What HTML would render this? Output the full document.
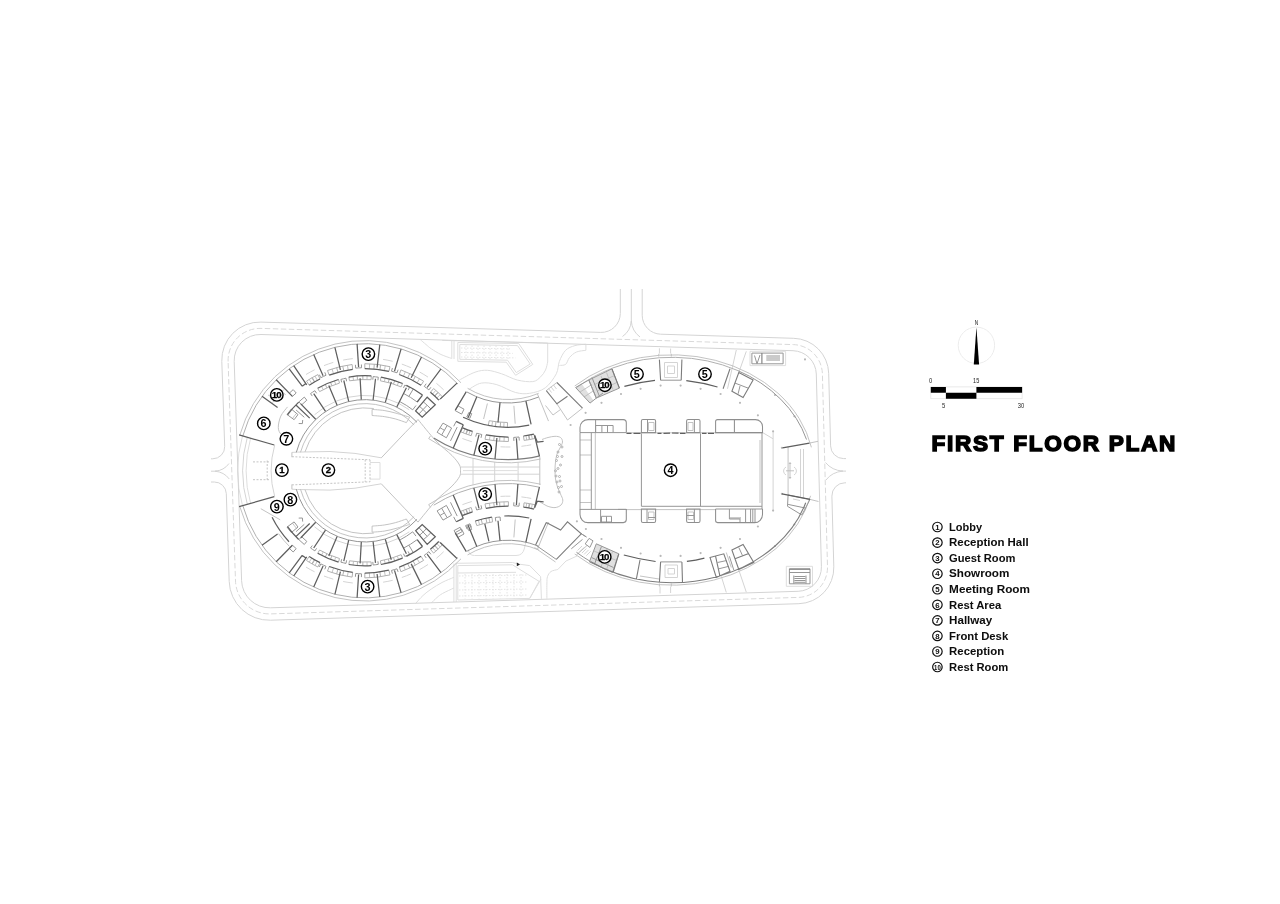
<!DOCTYPE html>
<html lang="en">
<head>
<meta charset="utf-8">
<title>First Floor Plan</title>
<style>
html,body{margin:0;padding:0;background:#fff;}
body{width:1280px;height:904px;overflow:hidden;position:relative;font-family:"Liberation Sans",sans-serif;}
svg{position:absolute;left:0;top:0;display:block;}
text{font-family:"Liberation Sans",sans-serif;}
</style>
</head>
<body>
<svg width="1280" height="904" viewBox="0 0 1280 904">
<defs><filter id="soft" x="0" y="0" width="1280" height="904" filterUnits="userSpaceOnUse"><feGaussianBlur stdDeviation="0.3"/></filter></defs>
<g filter="url(#soft)">
<g fill="none" stroke-linecap="butt" stroke-linejoin="miter">
<path style="stroke:none;fill:#e0e0e0" d="M575.6 387.5 L590 403.1 L593.5 400.5 L581.5 383.5ZM588.8 380 L596.3 398.1 L619.4 388.1 L611.9 368.8ZM596.3 543.8 L618.8 553.8 L612.5 572.5 L589.4 561.9Z"/>
<path style="stroke:#e4e4e4;stroke-width:1;stroke-dasharray:1.5 1.5" d="M461 348 L510 348.9M461 352.5 L512.7 353.4M461 357 L515.4 357.9M466 345.5V359.5M472 345.5V359.5M478 345.5V359.5M484 345.5V359.5M490 345.5V359.5M496 345.5V359.5M502 345.5V359.5M508 345.5V359.5M459 576 L528 575M459 583 L528 582M459 590 L528 589M459 596 L528 595M465 574V598.5M472 574V598.5M479 574V598.5M486 574V598.5M493 574V598.5M500 574V598.5M507 574V598.5M514 574V598.5M521 574V598.5"/>
<path style="stroke:#dedede;stroke-width:1" d="M242.5 435.9 A127.4 127.4 0 0 0 237.6 470.8M250.6 438.2 A118.9 118.9 0 0 0 246.1 470.8M242.5 505.7 A127.4 127.4 0 0 1 237.6 470.8M250.6 503.4 A118.9 118.9 0 0 1 246.1 470.8M370 462.5 L380 462.5 L380 479.1 L370 479.1M463 470.6 L517.5 470.6M750 351.3 L785.6 351.3 L785.6 365.6 L750 365.6ZM786.3 566.3 L812.5 566.3 L812.5 586.3 L786.3 586.3ZM420.3 339.6C421.2 340.4 424.2 343 426 344.5C427.8 346 428.8 347.1 431.3 348.8C433.8 350.5 437.6 352.9 441 354.5C444.4 356.1 449.8 357.8 451.6 358.4M442.2 340.4 L547.7 343 L547.7 362M547.7 362C547.3 363.3 546.7 367.5 545.5 370C544.3 372.5 542.7 375 540.6 376.9C538.5 378.8 536.7 381.1 532.8 381.6C528.9 382.1 522.4 381.3 517.2 380C512 378.7 506.6 375.4 501.6 373.8C496.7 372.2 491.9 370.6 487.5 370.3C483.1 370 479.7 370.6 475 372.2C470.3 373.8 462 378.7 459.4 380M451.8 341 L451.8 358.6M454 341 L454 359M457.8 342.5 L518.8 343.6 L532.8 364.4 L515.6 375.3 L506.3 362.2 L457.8 361.3ZM459.8 344.5 L517.6 345.6 L530.2 364 L516.3 372.6 L507.5 360.2 L459.8 359.3ZM468.8 389.4C470.9 388.3 476.6 383.9 481.3 383.1C486 382.3 491.2 383.1 496.9 384.7C502.6 386.3 510.1 391.1 515.6 392.5C521.1 393.9 524.8 394.1 529.7 393.3C534.7 392.5 540.9 391.1 545.3 387.8C549.7 384.6 553.9 378.2 556.3 373.8C558.6 369.4 557.8 365.2 559.4 361.3C561 357.4 563 352.9 565.6 350.3C568.2 347.7 571.6 346.6 575 345.6C578.4 344.6 584.1 344.4 585.9 344.2M585.9 344.2 L585.9 350.3M585.9 350.3C584.3 350.6 579.2 350.8 576.5 352C573.8 353.2 571.3 355.4 569.5 357.5C567.7 359.6 567.3 363.1 565.6 364.4C563.9 365.7 560.4 365.2 559.4 365.4M468.5 549.5 Q468.5 555.5 474.5 555.5 H516 Q523 555.5 524.5 548 L526 541M415.6 603.5C416.8 602.2 420.4 597.9 423 595.5C425.6 593.1 428.1 591.2 431.3 589C434.5 586.8 438.2 584.5 442 582.5C445.8 580.5 451.9 578.2 453.9 577.3M431.3 603C432.2 602.1 435.1 599.1 437 597.5C438.9 595.9 439.7 595.1 442.5 593.5C445.3 591.9 452 588.9 453.9 588M453.9 563.5 L453.9 602M456.2 563.5 L456.2 602M455.5 563.3 L512.5 562.5 L518.8 564.1 L529.7 565.6 L540.6 576.6 L541.4 598.8M457.8 565.6 L512.5 564.8 L518.8 568.8 L539 581.3 L529.7 598.4 L457.8 600ZM457.8 573 L516 572.3M529.7 598.4 L541 579M546.9 598.6C546.9 596.2 546.8 587.7 546.9 584C547 580.3 546.8 578.7 547.5 576.6C548.2 574.5 549.3 572.7 551 571.5C552.7 570.3 556.7 569.8 557.8 569.5M557.8 569.5 L566 561 L577 556"/>
<path style="stroke:#d4d4d4;stroke-width:1" d="M642.2 289L642.2 315.2A19 19 0 0 0 660.6 334.2L793.8 338.3A36 36 0 0 1 828.7 373.3L830.6 445.9A13 13 0 0 0 843.6 458.6L846 458.6M846 482.8L844.9 482.8A13 13 0 0 0 831.9 496.1L833.8 566.8A36 36 0 0 1 798.9 603.7L270.5 620.2A40 40 0 0 1 229.2 581.5L226.3 493.6A12 12 0 0 0 214.3 482L211 482M211 458.8L212.7 458.8A12 12 0 0 0 224.7 446.4L221.8 361.4A38 38 0 0 1 260.9 322.1L600.7 332.4A19 19 0 0 0 620.3 313.4L620.3 289M234.2 361.4A26 26 0 0 1 261 334.5L793 350.7A24 24 0 0 1 816.3 374L821.4 566.7A24 24 0 0 1 798.1 591.3L270.5 607.8A28 28 0 0 1 241.6 580.7ZM631.3 289 L631.3 323M631.3 321 Q630.5 331 622.5 336.5M631.3 321 Q632 331 640 337M211 471.2 L217 471.2M215 471.2 Q224 470.5 229 463.5M215 471.2 Q224 472 229.3 479M846 471.1 L841 471.1M843 471.1 Q832 470.5 825.5 462.5M843 471.1 Q832 472 826 480M306 374.5 A112.9 112.9 0 0 1 314.6 369.8M324 365.6 A112.9 112.9 0 0 1 333.3 362.4M343.1 360.1 A112.9 112.9 0 0 1 352.8 358.6M362.9 357.9 A112.9 112.9 0 0 1 372.8 358.2M383.1 359.4 A112.9 112.9 0 0 1 392.7 361.3M401.8 364.1 A112.9 112.9 0 0 1 410.9 367.7M419.6 372 A112.9 112.9 0 0 1 428 377.1M436.4 383.3 A112.9 112.9 0 0 1 443.7 389.9M314.5 414.8 A75.4 75.4 0 0 1 409.3 409.8M247.3 437.3 A122.4 122.4 0 0 0 242.6 470.8M274.7 445.1 A93.9 93.9 0 0 0 271.1 470.8M306 567.1 A112.9 112.9 0 0 0 314.6 571.8M324 576 A112.9 112.9 0 0 0 333.3 579.2M343.1 581.5 A112.9 112.9 0 0 0 352.8 583M362.9 583.7 A112.9 112.9 0 0 0 372.8 583.4M383.1 582.2 A112.9 112.9 0 0 0 392.7 580.3M401.8 577.5 A112.9 112.9 0 0 0 410.9 573.9M419.6 569.6 A112.9 112.9 0 0 0 428 564.5M436.4 558.3 A112.9 112.9 0 0 0 443.7 551.7M314.5 526.8 A75.4 75.4 0 0 0 409.3 531.8M247.3 504.3 A122.4 122.4 0 0 1 242.6 470.8M274.7 496.5 A93.9 93.9 0 0 1 271.1 470.8M297.5 452.1 L330 451.5 L355 453.4 L381.3 457.8M291.9 452.4 L297.5 452.1M297.5 489.5 L330 490.1 L355 488.2 L381.3 483.8M291.9 489.2 L297.5 489.5M462.4 438.5 A126 126 0 0 0 471.8 441.7M481.2 444.1 A126 126 0 0 0 490.9 445.8M500.5 446.8 A126 126 0 0 0 510.4 447M521.4 446.3 A126 126 0 0 0 531.2 444.8"/>
<path style="stroke:#d4d4d4;stroke-width:1" d="M473 458.4 L473 470.8M494.7 462.2 L494.7 470.8M518.1 462.4 L518.1 470.8M462.4 504.7 A126 126 0 0 1 471.8 501.5M481.2 499.1 A126 126 0 0 1 490.9 497.4M500.5 496.4 A126 126 0 0 1 510.4 496.2M521.4 496.9 A126 126 0 0 1 531.2 498.4M473 484.8 L473 470.8M494.7 481 L494.7 470.8M518.1 480.8 L518.1 470.8M461 467 L539.5 467M461 474.2 L539.5 474.2M664.5 362.5 L677.5 362.5 L677.5 377.5 L664.5 377.5ZM667.5 366 L674.5 366 L674.5 373.5 L667.5 373.5ZM659.4 353.5 L659.4 348.3M670.6 353.5 L670.6 348.6M736.3 350 L727.5 388.8M746.3 351.3 L738.8 372.5M800.5 449 L800.5 498M803.5 449 L803.5 498M793 499 L800 500.5M786 467 a4.5 4.5 0 0 0 0 8M794 467 a4.5 4.5 0 0 1 0 8M773.1 431.3 L773.1 510.6M762.5 432.5 L773.1 438.8M665 565 L677.5 565 L677.5 577.5 L665 577.5ZM668 568.5 L674.5 568.5 L674.5 574 L668 574ZM660 586.5 L660 593.5M670.6 586.5 L670.6 593M577.5 550.5 L582 546M579.7 551.8 L584.2 547.3M581.9 553.1 L586.4 548.6M584.1 554.4 L588.6 549.9M586.3 555.7 L590.8 551.2M721.3 576.3 L726.3 592.5M738.8 570 L746.3 592.2M548.5 388.5 L551.5 392.5M551 386.8 L554 390.8M553.5 385 L556.5 389"/>
<path style="stroke:#d9d9d9;stroke-width:1;stroke-dasharray:5.5 2.5" d="M228.1 361.5A32 32 0 0 1 261 328.4L793.3 344.6A30 30 0 0 1 822.4 373.8L827.5 566.7A30 30 0 0 1 798.4 597.4L270.6 613.9A34 34 0 0 1 235.5 581Z"/>
<path style="stroke:#bcbcbc;stroke-width:0.9" d="M239.8 435.1 A130.2 130.2 0 0 1 461 382.8M333.5 373.6 L332 368.9M348.2 370 L347.4 365.2M369.4 368.7 L369.6 363.8M384.4 370.5 L385.3 365.6M403.5 376.1 L405.4 371.6M417.1 382.9 L419.6 378.7M432.5 394.1 L435.8 390.4M436.8 398.1 L440.3 394.6M311.8 383.6 L309.2 379.4M317.3 380.4 L315 376.1M321.5 386.3 L323.2 389.6M334.4 380.7 L335.7 384.3M353 376.5 L353.5 380.2M367.1 375.7 L367 379.5M385.2 377.9 L384.4 381.6M398.7 381.9 L397.3 385.4M300.5 452.3 A67.1 67.1 0 0 1 414.1 425M305 451.9 A62.9 62.9 0 0 1 373.8 408.5M292.5 418.5 A89.4 89.4 0 0 1 296.5 413.3M287.5 406.9C286.4 408.5 282.3 412.7 280.8 416.1C279.3 419.6 278.2 424.5 278.3 427.6C278.3 430.6 279.8 433 281.2 434.4C282.6 435.7 285.6 435.6 286.5 435.9M268.2 395.1 L278.8 401M276.6 388.3 L285.7 394.7M272.6 402.5 A114.9 114.9 0 0 1 283.8 389.6M239.8 506.5 A130.2 130.2 0 0 0 461 558.8M333.5 568 L332 572.7M348.2 571.6 L347.4 576.4M369.4 572.9 L369.6 577.8M384.4 571.1 L385.3 576M403.5 565.5 L405.4 570M417.1 558.7 L419.6 562.9M432.5 547.5 L435.8 551.2M436.8 543.5 L440.3 547M311.8 558 L309.2 562.2M317.3 561.2 L315 565.5M321.5 555.3 L323.2 552M334.4 560.9 L335.7 557.3M353 565.1 L353.5 561.4M367.1 565.9 L367 562.1M385.2 563.7 L384.4 560"/>
<path style="stroke:#bcbcbc;stroke-width:0.9" d="M398.7 559.7 L397.3 556.2M300.5 489.3 A67.1 67.1 0 0 0 414.1 516.6M305 489.7 A62.9 62.9 0 0 0 373.8 533.1M292.5 523.1 A89.4 89.4 0 0 0 296.5 528.3M278.5 533.6 A106.9 106.9 0 0 0 289.4 546.4M260.8 508.7 L280.2 519.8M381.3 457.8 L405 432.8 L418 419.5M291.9 452.4 L291.9 457.2M381.3 483.8 L405 508.8 L418 522.1M291.9 489.2 L291.9 484.4M428.7 438.6 A141.8 141.8 0 0 0 540.6 459M430.5 435.9 L428.7 438.6M490.1 435.6 L489.4 440M504.2 436.9 L504 441.4M526 435.6 L526.7 440M531.4 434.6 L532.3 439M465 428.7 L463.3 432.9M470.1 430.6 L468.7 434.9M491.8 426.1 L492.6 421.3M503.8 427.2 L504 422.4M467.6 388.3 A78.5 78.5 0 0 0 538.7 393.3M487.4 403.5 L483.6 419M513.9 405.8 L515.2 423.7M537.4 393.8 L548.5 421.1M428.7 504.6 A141.8 141.8 0 0 1 540.6 484.2M430.5 507.3 L428.7 504.6M490.1 507.6 L489.4 503.2M504.2 506.3 L504 501.8M526 507.6 L526.7 503.2M531.4 508.6 L532.3 504.2M465 514.5 L463.3 510.3M470.1 512.6 L468.7 508.3M478.3 520.1 L479.6 524.8M488.9 517.6 L489.8 522.4M467.6 554.9 A78.5 78.5 0 0 1 538.7 549.9M513.9 537.4 L515.2 519.5M537.4 549.4 L548.5 522.1M539.8 456.5 L539.8 485M418 419.5C421 423.1 430.3 435 436 441C441.7 447 448.1 451.5 452 455.5C455.9 459.5 458.1 462.4 459.5 465C460.9 467.6 460.5 468.9 460.5 470.8C460.5 472.7 460.9 474.1 459.5 476.6C458.1 479.2 455.9 482.1 452 486.1C448.1 490.1 441.7 494.6 436 500.6C430.3 506.6 421 518.5 418 522.1M574.7 386 A142.2 115.2 0 0 1 811.4 447.3"/>
<path style="stroke:#bcbcbc;stroke-width:0.9" d="M576.4 387.8 A139.7 112.7 0 0 1 612.6 368M574.7 554 A142.2 115.2 0 0 0 810.6 495.8M658.8 356.5 L658.8 353.8M671.3 356.5 L671.3 353.8M580 392 L592 384.5M584 397 L594 390.5M594.5 384.5 L614.5 375.5M597.5 391 L617 382.5M601 376 L607 392M606.5 372.5 L613 389.5M809.4 443.1 L818 441.3M810 499.4 L818.5 501.5M788.1 447 L788.1 495M786 470.8h8M790 462v17M788.8 463.5h2.4M788.8 477.5h2.4M659.4 583.5 L659.4 586.5M671.3 583.5 L671.3 586.5M640 576 L659 579M594 551 L616.5 560.5M607 549 L601 567M612.5 551.5 L606.5 569.5M598.5 555 L595.5 561M576.3 555 L587 545.5M726.3 552.5 L731.3 567.5M546.3 390.6 L556.9 382.5M556.9 403.8 L567.5 420 L582.5 408.1M560.5 409.5 L553 415 L545.5 405.5M534.5 547.5 L555.5 562M648.5 422.5 L654 422.5 L654 430.5 L648.5 430.5ZM688 422.5 L693 422.5 L693 430.5 L688 430.5ZM648.5 512 L654 512 L654 519.5 L648.5 519.5ZM688 512 L693.5 512 L693.5 519.5 L688 519.5ZM626.3 509.6 L715.6 509.6M626.3 432.8 L762 432.8M760 440 L760 503M595.3 433 L595.3 509M580 440 L591.3 440M580 455 L591.3 455M580 490 L591.3 490M580 502.5 L591.3 502.5M542 439.5C543 439.2 545.8 438 548 437.5C550.2 437 552.9 436.3 555 436.3C557.1 436.3 559.2 436.6 560.5 437.5C561.8 438.4 562.6 440.2 562.5 442C562.4 443.8 560.9 446 560 448C559.1 450 557.8 451.7 557 454C556.2 456.3 555.8 459.3 555.5 462C555.2 464.7 555 467.2 555 470C555 472.8 555.1 476.2 555.5 479C555.9 481.8 556.7 484.5 557.5 487C558.3 489.5 559.6 491.8 560.5 494C561.4 496.2 562.7 498.2 562.8 500C562.9 501.8 562.3 503.7 561 505C559.7 506.3 557.3 507.4 555 507.6C552.7 507.8 549.3 506.9 547 506C544.7 505.1 542.6 503.3 541 502.5C539.4 501.7 538.1 501.2 537.5 501"/>
<path style="stroke:#bcbcbc;stroke-width:0.9" d="M372.1 409.4C374.1 409.6 380.2 409.9 384.2 410.5C388.2 411.1 391.8 412.1 396 413.2C400.2 414.3 407.4 416.5 409.7 417.2M372.1 415.5C374.1 415.7 380.3 416 384.2 416.6C388.1 417.2 391.6 417.9 395.3 418.9C399 419.9 404.5 422 406.4 422.6M372.1 409.4 L372.1 415.5M409.7 417.2 L406.4 422.6M372.1 532.2C374.1 532 380.2 531.7 384.2 531.1C388.2 530.5 391.8 529.5 396 528.4C400.2 527.3 407.4 525.1 409.7 524.4M372.1 526.1C374.1 525.9 380.3 525.6 384.2 525C388.1 524.4 391.6 523.7 395.3 522.7C399 521.7 404.5 519.6 406.4 519M372.1 532.2 L372.1 526.1M409.7 524.4 L406.4 519"/>
<path style="stroke:#c4c4c4;stroke-width:1;stroke-dasharray:2 1.5" d="M291.9 456.7 L370 459.8M253 461.9 H269.5M291.9 484.9 L370 481.8M253 479.7 H269.5M267.2 460.5V481.5M365.2 459.6V482M370 459.8V481.8"/>
<path style="stroke:none;fill:#b8b8b8" d="M659.5 385.6a1.1 1.1 0 1 0 2.2 0a1.1 1.1 0 1 0 -2.2 0M679.5 385.6a1.1 1.1 0 1 0 2.2 0a1.1 1.1 0 1 0 -2.2 0M639.5 388.8a1.1 1.1 0 1 0 2.2 0a1.1 1.1 0 1 0 -2.2 0M619.9 394a1.1 1.1 0 1 0 2.2 0a1.1 1.1 0 1 0 -2.2 0M600.4 402.8a1.1 1.1 0 1 0 2.2 0a1.1 1.1 0 1 0 -2.2 0M584.5 412.8a1.1 1.1 0 1 0 2.2 0a1.1 1.1 0 1 0 -2.2 0M569.5 425a1.1 1.1 0 1 0 2.2 0a1.1 1.1 0 1 0 -2.2 0M699.5 388.8a1.1 1.1 0 1 0 2.2 0a1.1 1.1 0 1 0 -2.2 0M719.5 394a1.1 1.1 0 1 0 2.2 0a1.1 1.1 0 1 0 -2.2 0M738.9 402.8a1.1 1.1 0 1 0 2.2 0a1.1 1.1 0 1 0 -2.2 0M756.8 415.3a1.1 1.1 0 1 0 2.2 0a1.1 1.1 0 1 0 -2.2 0M772 431.3a1.1 1.1 0 1 0 2.2 0a1.1 1.1 0 1 0 -2.2 0M780.8 447.8a1.1 1.1 0 1 0 2.2 0a1.1 1.1 0 1 0 -2.2 0M575.8 521.3a1.1 1.1 0 1 0 2.2 0a1.1 1.1 0 1 0 -2.2 0M584.8 529a1.1 1.1 0 1 0 2.2 0a1.1 1.1 0 1 0 -2.2 0M600.4 539a1.1 1.1 0 1 0 2.2 0a1.1 1.1 0 1 0 -2.2 0M619.9 547.8a1.1 1.1 0 1 0 2.2 0a1.1 1.1 0 1 0 -2.2 0M639.5 553.5a1.1 1.1 0 1 0 2.2 0a1.1 1.1 0 1 0 -2.2 0M659.5 555.9a1.1 1.1 0 1 0 2.2 0a1.1 1.1 0 1 0 -2.2 0M679.5 555.9a1.1 1.1 0 1 0 2.2 0a1.1 1.1 0 1 0 -2.2 0M699.5 553.1a1.1 1.1 0 1 0 2.2 0a1.1 1.1 0 1 0 -2.2 0M719.5 547.8a1.1 1.1 0 1 0 2.2 0a1.1 1.1 0 1 0 -2.2 0M738.9 539a1.1 1.1 0 1 0 2.2 0a1.1 1.1 0 1 0 -2.2 0M756.8 526.5a1.1 1.1 0 1 0 2.2 0a1.1 1.1 0 1 0 -2.2 0M772 510.6a1.1 1.1 0 1 0 2.2 0a1.1 1.1 0 1 0 -2.2 0M780.8 493.8a1.1 1.1 0 1 0 2.2 0a1.1 1.1 0 1 0 -2.2 0M773.9 395a1.1 1.1 0 1 0 2.2 0a1.1 1.1 0 1 0 -2.2 0M793.3 416.3a1.1 1.1 0 1 0 2.2 0a1.1 1.1 0 1 0 -2.2 0M773.9 546a1.1 1.1 0 1 0 2.2 0a1.1 1.1 0 1 0 -2.2 0M793.3 524.5a1.1 1.1 0 1 0 2.2 0a1.1 1.1 0 1 0 -2.2 0M803.9 359.4a1.1 1.1 0 1 0 2.2 0a1.1 1.1 0 1 0 -2.2 0"/>
<path style="stroke:#b0b0b0;stroke-width:1" d="M242.8 436 A127.1 127.1 0 0 1 458 384.1M327.5 370.5 A107.1 107.1 0 0 1 352.1 364.5M329.2 375.1 L327.5 370.5M337.9 372.3 L336.6 367.5M343.8 370.8 L342.7 366M352.7 369.3 L352.1 364.5M364.8 363.7 A107.1 107.1 0 0 1 390 366.7M364.8 368.6 L364.8 363.7M373.9 369 L374.3 364.1M379.9 369.7 L380.6 364.8M388.9 371.4 L390 366.7M400.9 369.9 A107.1 107.1 0 0 1 423.6 381.2M399.3 374.5 L400.9 369.9M407.7 378 L409.8 373.5M413.1 380.6 L415.4 376.3M421 385.3 L423.6 381.2M433.6 388.5 A107.1 107.1 0 0 1 442.3 396.7M430.4 392.3 L433.6 388.5M434.6 395.9 L437.9 392.3M434.8 396.2 L438.2 392.6M438.8 400.1 L442.3 396.7M306.5 381.1 A107.1 107.1 0 0 1 317.9 374.6M309.2 385.2 L306.5 381.1M314.4 382 L311.9 377.8M314.7 381.8 L312.3 377.6M320 379 L317.9 374.6M319.6 391.6 A91.3 91.3 0 0 1 339.5 383.1M317.7 388.3 L319.6 391.6M325.3 384.4 L326.8 387.9M330.5 382.2 L331.8 385.7M338.5 379.5 L339.5 383.1M349.5 380.8 A91.3 91.3 0 0 1 371.1 379.7M348.8 377.1 L349.5 380.8M357.2 376 L357.5 379.8M362.8 375.7 L362.9 379.5M371.3 375.9 L371.1 379.7M380.4 380.8 A91.3 91.3 0 0 1 401.1 386.9M381 377.1 L380.4 380.8M389.3 378.9 L388.3 382.5M394.7 380.5 L393.5 384.1"/>
<path style="stroke:#b0b0b0;stroke-width:1" d="M402.6 383.5 L401.1 386.9M242.8 505.6 A127.1 127.1 0 0 0 458 557.5M327.5 571.1 A107.1 107.1 0 0 0 352.1 577.1M329.2 566.5 L327.5 571.1M337.9 569.3 L336.6 574.1M343.8 570.8 L342.7 575.6M352.7 572.3 L352.1 577.1M364.8 577.9 A107.1 107.1 0 0 0 390 574.9M364.8 573 L364.8 577.9M373.9 572.6 L374.3 577.5M379.9 571.9 L380.6 576.8M388.9 570.2 L390 574.9M400.9 571.7 A107.1 107.1 0 0 0 423.6 560.4M399.3 567.1 L400.9 571.7M407.7 563.6 L409.8 568.1M413.1 561 L415.4 565.3M421 556.3 L423.6 560.4M433.6 553.1 A107.1 107.1 0 0 0 442.3 544.9M430.4 549.3 L433.6 553.1M434.6 545.7 L437.9 549.3M434.8 545.4 L438.2 549M438.8 541.5 L442.3 544.9M306.5 560.5 A107.1 107.1 0 0 0 317.9 567M309.2 556.4 L306.5 560.5M314.4 559.6 L311.9 563.8M314.7 559.8 L312.3 564M320 562.6 L317.9 567M319.6 550 A91.3 91.3 0 0 0 339.5 558.5M317.7 553.3 L319.6 550M325.3 557.2 L326.8 553.7M330.5 559.4 L331.8 555.9M338.5 562.1 L339.5 558.5M349.5 560.8 A91.3 91.3 0 0 0 371.1 561.9M348.8 564.5 L349.5 560.8M357.2 565.6 L357.5 561.8M362.8 565.9 L362.9 562.1M371.3 565.7 L371.1 561.9M380.4 560.8 A91.3 91.3 0 0 0 401.1 554.7M381 564.5 L380.4 560.8M389.3 562.7 L388.3 559.1"/>
<path style="stroke:#b0b0b0;stroke-width:1" d="M394.7 561.1 L393.5 557.5M402.6 558.1 L401.1 554.7M485 439.3 A120.5 120.5 0 0 0 508.4 441.5M485.9 434.9 L485 439.3M494.3 436.2 L493.7 440.7M499.9 436.7 L499.6 441.2M508.4 437 L508.4 441.5M524.1 440.4 A120.5 120.5 0 0 0 534.9 438.5M523.5 436 L524.1 440.4M528.5 435.2 L529.3 439.6M528.9 435.1 L529.8 439.5M533.9 434.1 L534.9 438.5M460.9 431.9 A120.5 120.5 0 0 0 471.2 435.7M462.7 427.8 L460.9 431.9M467.4 429.7 L465.8 433.9M467.8 429.8 L466.2 434M472.5 431.4 L471.2 435.7M489.2 420.7 A101.5 101.5 0 0 0 507.5 422.5M488.3 425.5 L489.2 420.7M495.4 426.6 L496 421.8M500.2 427 L500.6 422.2M507.4 427.3 L507.5 422.5M433.7 505.2 A138.6 138.6 0 0 1 539.9 487.3M485 503.9 A120.5 120.5 0 0 1 508.4 501.7M485.9 508.3 L485 503.9M494.3 507 L493.7 502.5M499.9 506.5 L499.6 502M508.4 506.2 L508.4 501.7M524.1 502.8 A120.5 120.5 0 0 1 534.9 504.7M523.5 507.2 L524.1 502.8M528.5 508 L529.3 503.6M528.9 508.1 L529.8 503.7M533.9 509.1 L534.9 504.7M460.9 511.3 A120.5 120.5 0 0 1 471.2 507.5M462.7 515.4 L460.9 511.3M467.4 513.5 L465.8 509.3M467.8 513.4 L466.2 509.2M472.5 511.8 L471.2 507.5M476.8 525.6 A101.5 101.5 0 0 1 492.6 521.9M475.3 521 L476.8 525.6"/>
<path style="stroke:#b0b0b0;stroke-width:1" d="M481.2 519.3 L482.4 524M485.9 518.2 L486.9 522.9M491.9 517.1 L492.6 521.9M612.6 368 A139.7 112.7 0 0 1 737.4 370.4M558 452m-1 0a1 1 0 1 0 2 0a1 1 0 1 0 -2 0M562 456.5m-1 0a1 1 0 1 0 2 0a1 1 0 1 0 -2 0M556.5 460.5m-1 0a1 1 0 1 0 2 0a1 1 0 1 0 -2 0M560.5 465m-1 0a1 1 0 1 0 2 0a1 1 0 1 0 -2 0M555.5 470.8m-1 0a1 1 0 1 0 2 0a1 1 0 1 0 -2 0M559.5 476.5m-1 0a1 1 0 1 0 2 0a1 1 0 1 0 -2 0M557 482m-1 0a1 1 0 1 0 2 0a1 1 0 1 0 -2 0M561.5 486.5m-1 0a1 1 0 1 0 2 0a1 1 0 1 0 -2 0M559 492m-1 0a1 1 0 1 0 2 0a1 1 0 1 0 -2 0M562 447m-1 0a1 1 0 1 0 2 0a1 1 0 1 0 -2 0M559.5 444.5m-1 0a1 1 0 1 0 2 0a1 1 0 1 0 -2 0M557.5 456.5m-1 0a1 1 0 1 0 2 0a1 1 0 1 0 -2 0M558 468.5m-1 0a1 1 0 1 0 2 0a1 1 0 1 0 -2 0M556 476m-1 0a1 1 0 1 0 2 0a1 1 0 1 0 -2 0M560 481m-1 0a1 1 0 1 0 2 0a1 1 0 1 0 -2 0M558.5 487.5m-1 0a1 1 0 1 0 2 0a1 1 0 1 0 -2 0"/>
<path style="stroke:#969696;stroke-width:1" d="M320.8 377.7 A103.1 103.1 0 0 1 326 375.3M320.8 377.7 L319.4 374.7M326 375.3 L324.8 372.3M355.7 368.1 A103.1 103.1 0 0 1 361.5 367.8M355.7 368.1 L355.4 364.8M361.5 367.8 L361.4 364.5M391.5 371.2 A103.1 103.1 0 0 1 397 372.8M391.5 371.2 L392.4 368M397 372.8 L398.1 369.7M424.3 386.4 A103.1 103.1 0 0 1 428.9 389.9M424.3 386.4 L426.2 383.7M428.9 389.9 L430.9 387.3M403.6 393.5 A86.4 86.4 0 0 1 417.2 402M413.3 388.9 L408.9 396.4M400.1 401.8 A77.4 77.4 0 0 1 412.7 409.8M412.7 409.8 L416 405.5M423.3 401.8 A90.4 90.4 0 0 1 430.9 408.9M419.5 406.3 A84.4 84.4 0 0 1 426.5 413M419 413.9 L427.2 405.2M310.5 393.6 A94.5 94.5 0 0 1 314.9 390.7M310.5 393.6 L312.3 396.1M314.9 390.7 L316.6 393.3M340.9 379.4 A94.5 94.5 0 0 1 346 378.2M340.9 379.4 L341.7 382.4M346 378.2 L346.6 381.3M373.1 376.6 A94.5 94.5 0 0 1 378.3 377.2M373.1 376.6 L372.8 379.7M378.3 377.2 L377.9 380.3M404.8 385.1 A94.5 94.5 0 0 1 409.5 387.4M404.8 385.1 L403.5 387.9M409.5 387.4 L408.1 390.2M296.3 452.4 A71.1 71.1 0 0 1 417 422.3M292.4 396.4 L289.3 393.2 L293.2 389.6 L296.2 393ZM294.1 419.7 L287 414.5 L291.3 409 L298 414.6ZM304.3 417.3 L296.1 410M298.7 423.5 L302.4 423.6 L302.7 420M301.7 404.8 L298.9 401.9 L304.3 397.1 L306.8 400.2ZM320.8 563.9 A103.1 103.1 0 0 0 326 566.3M320.8 563.9 L319.4 566.9M326 566.3 L324.8 569.3"/>
<path style="stroke:#969696;stroke-width:1" d="M355.7 573.5 A103.1 103.1 0 0 0 361.5 573.8M355.7 573.5 L355.4 576.8M361.5 573.8 L361.4 577.1M391.5 570.4 A103.1 103.1 0 0 0 397 568.8M391.5 570.4 L392.4 573.6M397 568.8 L398.1 571.9M424.3 555.2 A103.1 103.1 0 0 0 428.9 551.7M424.3 555.2 L426.2 557.9M428.9 551.7 L430.9 554.3M403.6 548.1 A86.4 86.4 0 0 0 417.2 539.6M413.3 552.7 L408.9 545.2M400.1 539.8 A77.4 77.4 0 0 0 412.7 531.8M412.7 531.8 L416 536.1M423.3 539.8 A90.4 90.4 0 0 0 430.9 532.7M419.5 535.3 A84.4 84.4 0 0 0 426.5 528.6M419 527.7 L427.2 536.4M310.5 548 A94.5 94.5 0 0 0 314.9 550.9M310.5 548 L312.3 545.5M314.9 550.9 L316.6 548.3M340.9 562.2 A94.5 94.5 0 0 0 346 563.4M340.9 562.2 L341.7 559.2M346 563.4 L346.6 560.3M373.1 565 A94.5 94.5 0 0 0 378.3 564.4M373.1 565 L372.8 561.9M378.3 564.4 L377.9 561.3M404.8 556.5 A94.5 94.5 0 0 0 409.5 554.2M404.8 556.5 L403.5 553.7M409.5 554.2 L408.1 551.4M296.3 489.2 A71.1 71.1 0 0 0 417 519.3M292.4 545.2 L289.3 548.4 L293.2 552 L296.2 548.6ZM294.1 521.9 L287 527.1 L291.3 532.6 L298 527ZM304.3 524.3 L296.1 531.6M298.7 518.1 L302.4 518 L302.7 521.6M301.7 536.8 L298.9 539.7 L304.3 544.5 L306.8 541.4ZM476.7 433.2 A116.5 116.5 0 0 0 481.8 434.5M476.7 433.2 L475.7 436.6M481.8 434.5 L481 437.9M513.7 437.4 A116.5 116.5 0 0 0 519 437M513.7 437.4 L513.9 440.9M519 437 L519.3 440.5"/>
<path style="stroke:#969696;stroke-width:1" d="M450.5 440.9 L457.2 427.1M456.2 421.4 L453.7 426.3M443 423.1 L437.1 432.3 L446.4 437.8 L451.6 428ZM447.1 425.6 L441.6 435.1M440 427.7 A126.5 126.5 0 0 0 444.4 430.3M467 392 A82 82 0 0 0 538.7 397M458 405.9 L455.2 410.6 L461.6 414.1 L464 409.2ZM468.8 412.5 L466.8 417 L469.9 418.3 L471.7 413.6ZM476.7 510 A116.5 116.5 0 0 1 481.8 508.7M476.7 510 L475.7 506.6M481.8 508.7 L481 505.3M513.7 505.8 A116.5 116.5 0 0 1 519 506.2M513.7 505.8 L513.9 502.3M519 506.2 L519.3 502.7M450.5 502.3 L457.2 516.1M456.2 521.8 L453.7 516.9M443 520.1 L437.1 510.9 L446.4 505.4 L451.6 515.2ZM447.1 517.6 L441.6 508.1M440 515.5 A126.5 126.5 0 0 1 444.4 512.9M495.3 517.5 A105.5 105.5 0 0 1 500.1 517M495.3 517.5 L495.8 521.4M500.1 517 L500.4 521M465.6 525.6 A105.5 105.5 0 0 1 470 523.8M465.6 525.6 L467.2 529.3M470 523.8 L471.5 527.5M456.5 534.7 L454 530.6 L460.1 527.3 L462.2 531.6ZM467 551.2 A82 82 0 0 1 538.7 546.2M458 537.3 L455.2 532.6 L461.6 529.1 L464 534ZM468.8 530.7 L466.8 526.2 L469.9 524.9 L471.7 529.6ZM737.4 370.4 A139.7 112.7 0 0 1 806.5 439.5M576.4 552.2 A139.7 112.7 0 0 0 590.8 561.7M660.6 380.2 L681.2 380.2M575.6 387.5 L590 403.1 L596.3 398.1 L588.8 380ZM588.8 380 L596.3 398.1 L619.4 388.1 L611.9 368.8ZM592 377.5 L599.5 396.5M596.3 398.1 L603 393M735 383.1 L748.1 388.1M740 386 L738.1 393.8M751.9 353.1 L783.1 353.1 L783.1 363.8 L751.9 363.8ZM754.5 355.5 L757 363.8"/>
<path style="stroke:#969696;stroke-width:1" d="M760 355 L757 363.8M766.3 356 L780 356M766.3 358 L780 358M766.3 360 L780 360M788.1 495 L787.5 506.3 L801.9 515 L810 499.4ZM788.1 504.4 L805.6 508.1M660.6 561.9 L681.9 561.9M596.3 543.8 L618.8 553.8 L612.5 572.5 L589.4 561.9ZM601.5 546.5 L594.5 564M591.5 557.5 L613.5 567.5M585.2 543.9 L589.1 538.4 L593 540.8 L589.9 547.4ZM581.3 533.8 L586.3 536.9M571.3 548.8 L582.5 539.4M717.5 562.5 L726.3 560.6M718.8 568.8 L728.8 566.3M729.4 556.3 L733.8 570M738.8 547.5 L742.5 555.6M789.4 568.8 L810 568.8 L810 583.8 L789.4 583.8ZM789.4 572.5 L810 572.5M794.4 576.5 L805.5 576.5M794.4 578.5 L805.5 578.5M794.4 580.5 L805.5 580.5M794.4 582.3 L805.5 582.3M793.8 575.5 L793.8 583.8M806 575.5 L806 583.8M535.6 545 L556.3 559.4M581.3 533.8 L586.5 537M647.5 419.5 L647.5 432.6M694.4 419.5 L694.4 432.6M647 509 L647 522.5M694.4 509 L694.4 522.5M648 517.5 L655 517.5M687 515.5 L694 515.5M595.6 425.5 L595.6 432.6M601.9 425.5 L601.9 432.6M607.5 425.5 L607.5 432.6M613.1 425.5 L613.1 432.6M595.6 425.5 L613.1 425.5M595.6 419.6 L595.6 432.6M580 432.6 L626.3 432.6"/>
<path style="stroke:#969696;stroke-width:1" d="M600.6 509.4 L600.6 522.5M601.5 516.3 L611.5 516.3 L611.5 522 L601.5 522ZM606.5 516.3 L606.5 522M580 509.4 L626.3 509.4M618 509.4 L626.3 509.4M715.6 509 L762.5 509M729.4 509 L729.4 519 L740 519 L740 522.5M730 518 L741 518M745.6 509 L745.6 522.5M750.6 509 L750.6 522.5M752.8 509 L752.8 522.5M755 509 L755 522.5M641.4 433.4 L641.4 506.3M700.5 433.4 L700.5 506.3M641.4 506.3 L762 506.3M762 432.6 L762 509M580 432.6 L580 509.4M591.3 432.6 L591.3 509.4"/>
<path style="stroke:#8e8e8e;stroke-width:1.05" d="M580 432.6V427.6a8 8 0 0 1 8 -8H623.3a3 3 0 0 1 3 3V432.6M580 509V514.6a8 8 0 0 0 8 8H623.3a3 3 0 0 0 3 -3V509M715.6 432.6V421.6a2 2 0 0 1 2 -2H755.5a7 7 0 0 1 7 7V432.6ZM715.6 509V520.6a2 2 0 0 0 2 2H754.5a8 8 0 0 0 8 -8V509M641.4 432.6V421a1.5 1.5 0 0 1 1.5 -1.5H654.1a1.5 1.5 0 0 1 1.5 1.5V432.6ZM641.4 509V521a1.5 1.5 0 0 0 1.5 1.5H654.1a1.5 1.5 0 0 0 1.5 -1.5V509ZM686.6 432.6V421a1.5 1.5 0 0 1 1.5 -1.5H698.5a1.5 1.5 0 0 1 1.5 1.5V432.6ZM686.6 509V521a1.5 1.5 0 0 0 1.5 1.5H698.5a1.5 1.5 0 0 0 1.5 -1.5V509ZM734.4 419.6 L734.4 432.6"/>
<path style="stroke:#7c7c7c;stroke-width:1.1" d="M433.7 438 A138.6 138.6 0 0 0 539.9 455.9M590.8 561.7 A139.7 112.7 0 0 0 805.7 502.7M611.9 368.8 L619.4 388.1M659.4 359.6 L660.6 380.2M681.9 359.6 L681.2 380.2M730 368.8 L723.1 388.8M738.8 372.5 L753.1 380 L743.1 397.5 L731.9 391.3ZM761.9 353.1 L761.9 363.8M618.8 553.8 L613.1 572.5M640 560 L636.3 579.4M660.6 561.9 L659.4 582.5M681.9 561.9 L682.5 582.5M710 557.5 L723.8 553.8 L730 571.3 L716.3 577.5ZM715.6 556.3 L720 576.3M731.9 550 L743.1 544.4 L753.8 562.5 L738.8 569.4ZM735 558.8 L748.1 553.8M789.4 569.2 L810 569.2M546.3 390.6 L556.9 403.8 L567.5 396.3M556.9 382.5 L582.5 408.1M546.3 522.5 L535.6 545M556.3 559.4 L581.3 533.8 L567.5 521.9 L560.6 530 L546.3 522.5"/>
<path style="stroke:#5e5e5e;stroke-width:1.25" d="M262 396.3 L277.6 407.5M276.2 379.8 L292.4 396.4M293.7 365.6 L306.7 384.8M313.7 354.5 L323.1 375.7M334.9 347.3 L340.4 369.9M357.1 343.9 L358.6 367.1M379.8 344.6 L377.1 367.6M401.1 348.9 L394.5 371.2M421.5 357 L411.2 377.7M441 368.9 L427.1 387.5M457 383.1 L440.2 399.1M329.2 375.1 A102.2 102.2 0 0 1 352.7 369.3M364.8 368.6 A102.2 102.2 0 0 1 388.9 371.4M399.3 374.5 A102.2 102.2 0 0 1 421 385.3M430.4 392.3 A102.2 102.2 0 0 1 438.8 400.1M309.2 385.2 A102.2 102.2 0 0 1 320 379M406.4 385.2 A95.1 95.1 0 0 1 422.5 395.1M422.5 395.1 L417.2 402M415.6 410.9 L427.2 397.2 L435.3 404.8 L422.2 417.1ZM300.8 403.9 L315.7 419.3M313.7 393.6 L325.5 411.4M328.8 385.5 L337.1 405.2M343.8 380.5 L348.7 401.4M360.1 378.2 L361.3 399.6M375.5 378.7 L373.1 400M391.3 381.9 L385.3 402.4M406.4 387.8 L396.8 407M317.7 388.3 A95.1 95.1 0 0 1 338.5 379.5M348.8 377.1 A95.1 95.1 0 0 1 371.3 375.9M381 377.1 A95.1 95.1 0 0 1 402.6 383.5M239.1 434.9 L274.3 445M289.2 368.8 L302.2 386.2M302.2 386.2 L305.9 383.5M287.5 414.9 A95.5 95.5 0 0 1 298.7 402.1M309.7 418.1 L295.9 405M262 545.3 L277.6 534.1M276.2 561.8 L292.4 545.2M293.7 576 L306.7 556.8M313.7 587.1 L323.1 565.9M334.9 594.3 L340.4 571.7"/>
<path style="stroke:#5e5e5e;stroke-width:1.25" d="M357.1 597.7 L358.6 574.5M379.8 597 L377.1 574M401.1 592.7 L394.5 570.4M421.5 584.6 L411.2 563.9M441 572.7 L427.1 554.1M457 558.5 L440.2 542.5M329.2 566.5 A102.2 102.2 0 0 0 352.7 572.3M364.8 573 A102.2 102.2 0 0 0 388.9 570.2M399.3 567.1 A102.2 102.2 0 0 0 421 556.3M430.4 549.3 A102.2 102.2 0 0 0 438.8 541.5M309.2 556.4 A102.2 102.2 0 0 0 320 562.6M406.4 556.4 A95.1 95.1 0 0 0 422.5 546.5M422.5 546.5 L417.2 539.6M415.6 530.7 L427.2 544.4 L435.3 536.8 L422.2 524.5ZM300.8 537.7 L315.7 522.3M313.7 548 L325.5 530.2M328.8 556.1 L337.1 536.4M343.8 561.1 L348.7 540.2M360.1 563.4 L361.3 542M375.5 562.9 L373.1 541.6M391.3 559.7 L385.3 539.2M406.4 553.8 L396.8 534.6M317.7 553.3 A95.1 95.1 0 0 0 338.5 562.1M348.8 564.5 A95.1 95.1 0 0 0 371.3 565.7M381 564.5 A95.1 95.1 0 0 0 402.6 558.1M239.1 506.7 L274.3 496.6M289.2 572.8 L302.2 555.4M302.2 555.4 L305.9 558.1M287.5 526.7 A95.5 95.5 0 0 0 298.7 539.5M309.7 523.5 L295.9 536.6M272.1 517.3 A103.9 103.9 0 0 0 289 541.7M453.2 448.3 L461.5 428.9M473.8 455.3 L479 434.9M495 459 L496.9 438M517.9 459.2 L516.4 438.2M539.4 456 L534.6 435.4M485.9 434.9 A116 116 0 0 0 508.4 437M523.5 436 A116 116 0 0 0 533.9 434.1M462.7 427.8 A116 116 0 0 0 472.5 431.4M456.2 421.4 A113 113 0 0 0 463.3 424.8"/>
<path style="stroke:#5e5e5e;stroke-width:1.25" d="M463.3 424.8 L461.5 428.9M463.1 417.3 A106.3 106.3 0 0 0 529.2 425.2M488.3 425.5 A106.3 106.3 0 0 0 507.4 427.3M466.3 391.6 L455.3 410.1M476.8 396.8 L468.2 417.6M500 402.6 L498 422.5M525.9 401 L531.1 424.4M534.6 435.4 L537.3 442 L543.6 441.3M453.2 494.9 L461.5 514.3M473.8 487.9 L479 508.3M495 484.2 L496.9 505.2M517.9 484 L516.4 505M539.4 487.2 L534.6 507.8M485.9 508.3 A116 116 0 0 1 508.4 506.2M523.5 507.2 A116 116 0 0 1 533.9 509.1M462.7 515.4 A116 116 0 0 1 472.5 511.8M456.2 521.8 A113 113 0 0 1 463.3 518.4M463.3 518.4 L461.5 514.3M504.3 516 A106.3 106.3 0 0 1 529.2 518M475.3 521 A106.3 106.3 0 0 1 491.9 517.1M466.3 551.6 L455.3 533.1M476.8 546.4 L468.2 525.6M500 540.6 L498 520.7M525.9 542.2 L531.1 518.8M488.9 541.4 L484.8 523.9M534.6 507.8 L537.3 501.2 L543.6 501.9M624.4 386.3 Q640 382 655 380.4M686.3 380.6 Q702 382.5 717.5 387M782.5 447.8 L809.4 443.1M781.9 493.8 L810 499.4M623.8 555 Q640 559.5 655.6 561.5M686.9 561.3 Q696 560.3 704.4 558.1M626.5 433.4 L631.5 433.4M633.5 433.4 L640.5 433.4M657.5 433.4 L661.5 433.4M663.5 433.4 L670 433.2M672 433 L678.5 433.2M680 433.4 L685.5 433.4M702 433.4 L706.5 433.4M708 433.4 L714 433.4"/>
<path style="stroke:none;fill:#222" d="M516.8 562.5L520 564.4L516.8 566.2Z"/>
</g>
<g font-weight="bold" text-anchor="middle" fill="#000">
<circle cx="281.9" cy="470.1" r="6.25" fill="#fff" stroke="#000" stroke-width="1.4"/>
<text x="281.9" y="473" font-size="9.6" stroke="#000" stroke-width="0.3">1</text>
<circle cx="328.4" cy="470.1" r="6.25" fill="#fff" stroke="#000" stroke-width="1.4"/>
<text x="328.4" y="473" font-size="9.6" stroke="#000" stroke-width="0.3">2</text>
<circle cx="368.4" cy="354.1" r="6.25" fill="#fff" stroke="#000" stroke-width="1.4"/>
<text x="368.2" y="358" font-size="10.8">3</text>
<circle cx="367.6" cy="586.6" r="6.25" fill="#fff" stroke="#000" stroke-width="1.4"/>
<text x="367.4" y="591" font-size="10.8">3</text>
<circle cx="485.2" cy="448.6" r="6.25" fill="#fff" stroke="#000" stroke-width="1.4"/>
<text x="485" y="453" font-size="10.8">3</text>
<circle cx="485.2" cy="494.1" r="6.25" fill="#fff" stroke="#000" stroke-width="1.4"/>
<text x="485" y="498" font-size="10.8">3</text>
<circle cx="670.6" cy="470.2" r="6.25" fill="#fff" stroke="#000" stroke-width="1.4"/>
<text x="670.4" y="474" font-size="10.8">4</text>
<circle cx="637" cy="374.1" r="6.25" fill="#fff" stroke="#000" stroke-width="1.4"/>
<text x="636.8" y="378" font-size="10.8">5</text>
<circle cx="705" cy="374.1" r="6.25" fill="#fff" stroke="#000" stroke-width="1.4"/>
<text x="704.8" y="378" font-size="10.8">5</text>
<circle cx="263.8" cy="423.4" r="6.25" fill="#fff" stroke="#000" stroke-width="1.4"/>
<text x="263.6" y="427" font-size="10.8">6</text>
<circle cx="286.4" cy="438.8" r="6.25" fill="#fff" stroke="#000" stroke-width="1.4"/>
<text x="286.2" y="443" font-size="10.8">7</text>
<circle cx="290.4" cy="499.6" r="6.25" fill="#fff" stroke="#000" stroke-width="1.4"/>
<text x="290.2" y="504" font-size="10.8">8</text>
<circle cx="276.9" cy="506.6" r="6.25" fill="#fff" stroke="#000" stroke-width="1.4"/>
<text x="276.7" y="511" font-size="10.8">9</text>
<circle cx="276.8" cy="394.9" r="6.25" fill="#fff" stroke="#000" stroke-width="1.4"/>
<text x="276.2" y="398" font-size="9.7" letter-spacing="-1" stroke="#000" stroke-width="0.25">10</text>
<circle cx="604.9" cy="385.2" r="6.25" fill="#fff" stroke="#000" stroke-width="1.4"/>
<text x="604.3" y="388" font-size="9.7" letter-spacing="-1" stroke="#000" stroke-width="0.25">10</text>
<circle cx="604.7" cy="556.9" r="6.25" fill="#fff" stroke="#000" stroke-width="1.4"/>
<text x="604.1" y="560" font-size="9.7" letter-spacing="-1" stroke="#000" stroke-width="0.25">10</text>
</g>
<circle cx="976.4" cy="345.3" r="18.2" fill="none" stroke="#ececec" stroke-width="1"/>
<path d="M976.4 327.2L979.1 364.5L973.8 364.5Z" fill="#000"/>
<text x="976.4" y="324.8" font-size="7.6" text-anchor="middle" fill="#111" textLength="3.4" lengthAdjust="spacingAndGlyphs">N</text>
<rect x="930.8" y="386.9" width="91.3" height="11.8" fill="#fff" stroke="#e4e4e4" stroke-width="0.8"/>
<path d="M930.8 386.9H945.9V392.8H976.4V386.9H1022.1V392.8H976.4V398.7H945.9V392.8H930.8Z" fill="#000"/>
<text x="930.5" y="383.4" font-size="7.6" text-anchor="middle" fill="#222" textLength="3.2" lengthAdjust="spacingAndGlyphs">0</text>
<text x="976.2" y="383.4" font-size="7.6" text-anchor="middle" fill="#222" textLength="6.2" lengthAdjust="spacingAndGlyphs">15</text>
<text x="943.7" y="407.8" font-size="7.6" text-anchor="middle" fill="#222" textLength="3.2" lengthAdjust="spacingAndGlyphs">5</text>
<text x="1021" y="407.8" font-size="7.6" text-anchor="middle" fill="#222" textLength="6.4" lengthAdjust="spacingAndGlyphs">30</text>
<text x="931.5" y="451.0" font-size="22.6" font-weight="bold" fill="#000" stroke="#000" stroke-width="1.5" stroke-linejoin="miter" letter-spacing="1.7" word-spacing="0">FIRST FLOOR PLAN</text>
<g font-weight="bold" fill="#0a0a0a">
<circle cx="937.4" cy="527" r="4.75" fill="none" stroke="#0a0a0a" stroke-width="1.15"/>
<text x="937.4" y="529.8" font-size="7.8" text-anchor="middle">1</text>
<text x="949.1" y="530.7" font-size="11.7" textLength="32.9" lengthAdjust="spacingAndGlyphs">Lobby</text>
<circle cx="937.4" cy="542.6" r="4.75" fill="none" stroke="#0a0a0a" stroke-width="1.15"/>
<text x="937.4" y="545.3" font-size="7.8" text-anchor="middle">2</text>
<text x="949.1" y="546.3" font-size="11.7" textLength="79.5" lengthAdjust="spacingAndGlyphs">Reception Hall</text>
<circle cx="937.4" cy="558.1" r="4.75" fill="none" stroke="#0a0a0a" stroke-width="1.15"/>
<text x="937.4" y="560.9" font-size="7.8" text-anchor="middle">3</text>
<text x="949.1" y="561.8" font-size="11.7" textLength="66.3" lengthAdjust="spacingAndGlyphs">Guest Room</text>
<circle cx="937.4" cy="573.7" r="4.75" fill="none" stroke="#0a0a0a" stroke-width="1.15"/>
<text x="937.4" y="576.4" font-size="7.8" text-anchor="middle">4</text>
<text x="949.1" y="577.4" font-size="11.7" textLength="60.2" lengthAdjust="spacingAndGlyphs">Showroom</text>
<circle cx="937.4" cy="589.2" r="4.75" fill="none" stroke="#0a0a0a" stroke-width="1.15"/>
<text x="937.4" y="592" font-size="7.8" text-anchor="middle">5</text>
<text x="949.1" y="592.9" font-size="11.7" textLength="80.9" lengthAdjust="spacingAndGlyphs">Meeting Room</text>
<circle cx="937.4" cy="604.8" r="4.75" fill="none" stroke="#0a0a0a" stroke-width="1.15"/>
<text x="937.4" y="607.5" font-size="7.8" text-anchor="middle">6</text>
<text x="949.1" y="608.5" font-size="11.7" textLength="52.2" lengthAdjust="spacingAndGlyphs">Rest Area</text>
<circle cx="937.4" cy="620.4" r="4.75" fill="none" stroke="#0a0a0a" stroke-width="1.15"/>
<text x="937.4" y="623.1" font-size="7.8" text-anchor="middle">7</text>
<text x="949.1" y="624.1" font-size="11.7" textLength="43.1" lengthAdjust="spacingAndGlyphs">Hallway</text>
<circle cx="937.4" cy="635.9" r="4.75" fill="none" stroke="#0a0a0a" stroke-width="1.15"/>
<text x="937.4" y="638.7" font-size="7.8" text-anchor="middle">8</text>
<text x="949.1" y="639.6" font-size="11.7" textLength="59.1" lengthAdjust="spacingAndGlyphs">Front Desk</text>
<circle cx="937.4" cy="651.5" r="4.75" fill="none" stroke="#0a0a0a" stroke-width="1.15"/>
<text x="937.4" y="654.2" font-size="7.8" text-anchor="middle">9</text>
<text x="949.1" y="655.2" font-size="11.7" textLength="55" lengthAdjust="spacingAndGlyphs">Reception</text>
<circle cx="937.4" cy="667" r="4.75" fill="none" stroke="#0a0a0a" stroke-width="1.15"/>
<text x="937.4" y="669.7" font-size="7.4" text-anchor="middle" textLength="6.6" lengthAdjust="spacingAndGlyphs">10</text>
<text x="949.1" y="670.7" font-size="11.7" textLength="59.1" lengthAdjust="spacingAndGlyphs">Rest Room</text>
</g>
</g>
</svg>
</body>
</html>
